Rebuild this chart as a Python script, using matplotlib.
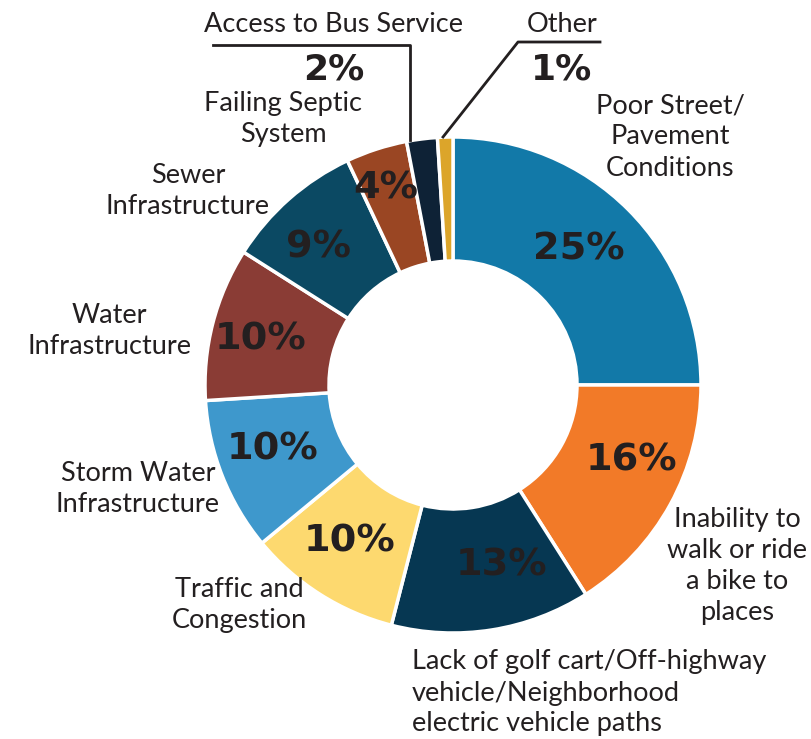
import numpy as np
import matplotlib
matplotlib.use('Agg')
import matplotlib.pyplot as plt

labels = ['Poor Street/\nPavement\nConditions',
          'Inability to\nwalk or ride\na bike to\nplaces',
          'Lack of golf cart/Off-highway\nvehicle/Neighborhood\nelectric vehicle paths',
          'Traffic and\nCongestion',
          'Storm Water\nInfrastructure',
          'Water\nInfrastructure',
          'Sewer\nInfrastructure',
          'Failing Septic\nSystem',
          'Access to Bus Service',
          'Other']
valores = [25, 16, 13, 10, 10, 10, 9, 4, 2, 1]
cores = ['#1279A8', '#F27A28', '#063752', '#FDD96F', '#3E98CC',
         '#8A3C35', '#0B4963', '#9A4623', '#0E2236', '#DCA52A']

W, H = 811, 739
TXT = '#231F20'

def py(y):
    # pixel y (top origin) -> data y
    return H - y

fig = plt.figure(figsize=(W / 100, H / 100), dpi=100)
ax = fig.add_axes([0, 0, 1, 1])
ax.set_xlim(0, W)
ax.set_ylim(0, H)
ax.set_aspect('equal')
ax.axis('off')

cx, cy, R = 453, 385, 248
wedges, _ = ax.pie(valores, colors=cores, startangle=90, counterclock=False,
                   radius=R, center=(cx, py(cy)),
                   wedgeprops=dict(width=R * 0.5, edgecolor='white', linewidth=2.5))
ax.set_xlim(0, W)
ax.set_ylim(0, H)

# percentages inside the ring (last two are outside)
desvio = [2, 6, 6, -1, -2, 1, 3, 1]
raio_lbl = [185, 194, 187, 187, 192, 198, 192, 208]
for i, w in enumerate(wedges[:8]):
    ang = np.deg2rad((w.theta1 + w.theta2) / 2 + desvio[i])
    x = cx + raio_lbl[i] * np.cos(ang)
    y = py(cy) + raio_lbl[i] * np.sin(ang)
    ax.text(x, y, f'{valores[i]}%', ha='center', va='center', fontsize=27.5,
            fontweight='bold', family='DejaVu Sans', color=TXT)

# outer labels
fonte = dict(fontsize=19.5, family='Lato', color=TXT, linespacing=1.3)
ax.text(670, py(137), labels[0], ha='center', va='center', **fonte)
ax.text(737, py(566), labels[1], ha='center', va='center', **fonte)
ax.text(412, py(693), labels[2], ha='left', va='center', **fonte)
ax.text(239, py(605), labels[3], ha='center', va='center', **fonte)
ax.text(138, py(489), labels[4], ha='center', va='center', **fonte)
ax.text(109, py(331), labels[5], ha='center', va='center', **fonte)
ax.text(188, py(191), labels[6], ha='center', va='center', **fonte)
ax.text(283, py(119), labels[7], ha='center', va='center', **fonte)
ax.text(334, py(24), labels[8], ha='center', va='center', **fonte)
ax.text(562, py(24), labels[9], ha='center', va='center', **fonte)

ax.text(334, py(69), f'{valores[8]}%', ha='center', va='center', fontsize=26,
        fontweight='bold', family='DejaVu Sans', color=TXT)
ax.text(562, py(69), f'{valores[9]}%', ha='center', va='center', fontsize=26,
        fontweight='bold', family='DejaVu Sans', color=TXT)

# leader lines
ax.plot([213, 410, 410], [py(45), py(45), py(140)], color=TXT, lw=2)
ax.plot([600, 518, 443], [py(42), py(42), py(137)], color=TXT, lw=2)

fig.savefig('out.png', dpi=100)
